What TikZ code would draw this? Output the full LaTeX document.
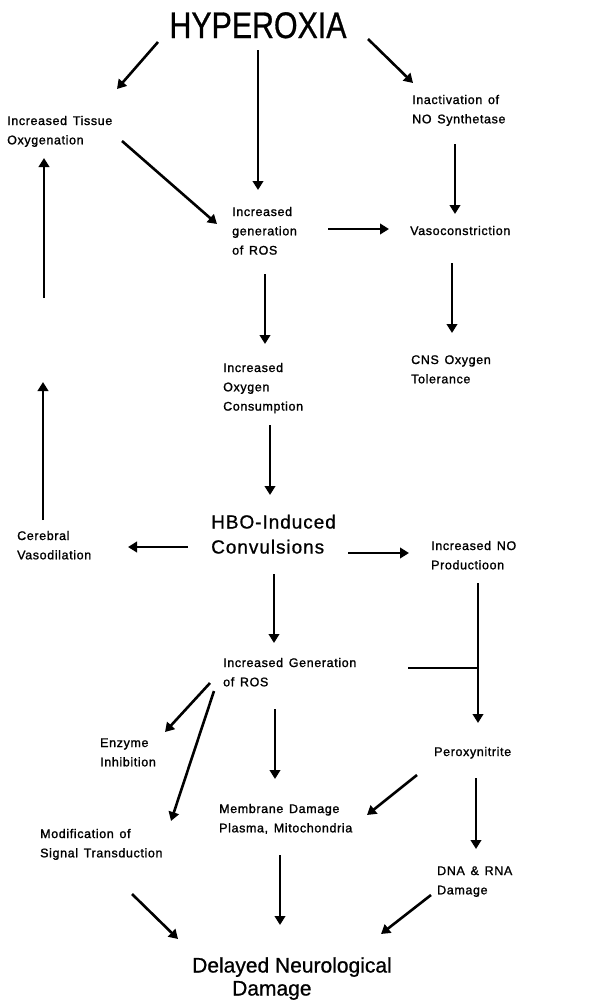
\documentclass[tikz,border=0pt]{standalone}
\usepackage{fontspec}
\usetikzlibrary{arrows.meta}
\setmainfont{Liberation Sans}
\newfontfamily\lblfam{Liberation Sans}[LetterSpace=5,FakeBold=1.3,WordSpace=1.4]
\newfontfamily\midfam{Liberation Sans}[LetterSpace=5,FakeBold=0.8]
\newfontfamily\bigfam{Liberation Sans}[FakeBold=0.8]
\newcommand\lblfont{\lblfam\fontsize{12.5}{19.3}\selectfont}
\newcommand\hbofont{\midfam\fontsize{19}{25}\selectfont}
\newcommand\dndfont{\bigfam\fontsize{21}{23}\selectfont}
\newcommand\hypfont{\bigfam\fontsize{37}{40}\selectfont}
\newcommand\lines[1]{\begin{tabular}[t]{@{}l@{}}#1\end{tabular}}
\begin{document}
\begin{tikzpicture}[x=1pt,y=-1pt,
  arr/.style={line width=2.6pt,-{Triangle[length=9pt,width=10.5pt]}},
  plain/.style={line width=2.6pt},
  lbl/.style={anchor=base west,inner sep=0pt,font=\lblfont}]
\useasboundingbox[fill=white] (0,0) rectangle (614,1002);
% nodes
\node[anchor=base,inner sep=0pt,font=\hypfont] (hyp) at (258,38) {\scalebox{0.82}[1]{HYPEROXIA}};
\node[lbl] (tis) at (7,125) {\lines{Increased Tissue\\Oxygenation}};
\node[lbl] (ina) at (412,104) {\lines{Inactivation of\\NO Synthetase}};
\node[lbl] (ros1) at (232,216) {\lines{Increased\\generation\\of ROS}};
\node[lbl] (vaso) at (410,235) {Vasoconstriction};
\node[lbl] (cons) at (223,372) {\lines{Increased\\Oxygen\\Consumption}};
\node[lbl] (cns) at (411,364) {\lines{CNS Oxygen\\Tolerance}};
\node[anchor=base west,inner sep=0pt,font=\hbofont] (hbo) at (211,528.5) {\lines{HBO-Induced\\Convulsions}};
\node[lbl] (cer) at (17,540) {\lines{Cerebral\\Vasodilation}};
\node[lbl] (nop) at (431,550) {\lines{Increased NO\\Productioon}};
\node[lbl] (ros2) at (223,667) {\lines{Increased Generation\\of ROS}};
\node[lbl] (enz) at (100,747) {\lines{Enzyme\\Inhibition}};
\node[lbl] (per) at (434,756) {Peroxynitrite};
\node[lbl] (mem) at (219,813) {\lines{Membrane Damage\\Plasma, Mitochondria}};
\node[lbl] (mod) at (40,838) {\lines{Modification of\\Signal Transduction}};
\node[lbl] (dna) at (437,875) {\lines{DNA \& RNA\\Damage}};
\node[anchor=base west,inner sep=0pt,font=\dndfont] (dnd) at (192,972.5) {\lines{Delayed Neurological\\\hspace*{40pt}Damage}};
% connector end points
\coordinate (hyp-tis-a) at (158,42);  \coordinate (hyp-tis-b) at (117,89);
\coordinate (hyp-ros-a) at (258,50);  \coordinate (hyp-ros-b) at (258,190);
\coordinate (hyp-ina-a) at (368,39);  \coordinate (hyp-ina-b) at (413,83);
\coordinate (ina-vas-a) at (455,144); \coordinate (ina-vas-b) at (455,214);
\coordinate (tis-ros-a) at (122,141); \coordinate (tis-ros-b) at (217,224);
\coordinate (ros-vas-a) at (328,229); \coordinate (ros-vas-b) at (389,229);
\coordinate (vas-cns-a) at (452,263); \coordinate (vas-cns-b) at (452,333);
\coordinate (ros-con-a) at (265,274); \coordinate (ros-con-b) at (265,344);
\coordinate (cer-up-a) at (43,520);   \coordinate (cer-up-b) at (43,382);
\coordinate (cer-tis-a) at (44,298);  \coordinate (cer-tis-b) at (44,158);
\coordinate (con-hbo-a) at (270,425); \coordinate (con-hbo-b) at (270,495);
\coordinate (hbo-cer-a) at (188,547); \coordinate (hbo-cer-b) at (128,547);
\coordinate (hbo-nop-a) at (348,553); \coordinate (hbo-nop-b) at (409,553);
\coordinate (hbo-ros-a) at (274,574); \coordinate (hbo-ros-b) at (274,643);
\coordinate (nop-per-a) at (478,583); \coordinate (nop-per-b) at (478,723);
\coordinate (ros-j-a) at (408,668);   \coordinate (ros-j-b) at (478,668);
\coordinate (ros-enz-a) at (210,683); \coordinate (ros-enz-b) at (165,732);
\coordinate (ros-mod-a) at (214,691); \coordinate (ros-mod-b) at (171,821);
\coordinate (ros-mem-a) at (275,709); \coordinate (ros-mem-b) at (275,779);
\coordinate (per-mem-a) at (417,775); \coordinate (per-mem-b) at (367,815);
\coordinate (per-dna-a) at (476,778); \coordinate (per-dna-b) at (476,849);
\coordinate (mod-dnd-a) at (132,894); \coordinate (mod-dnd-b) at (178,939);
\coordinate (mem-dnd-a) at (280,855); \coordinate (mem-dnd-b) at (280,925);
\coordinate (dna-dnd-a) at (431,895); \coordinate (dna-dnd-b) at (381,934);
% connectors
\foreach \c in {hyp-tis,hyp-ros,hyp-ina,ina-vas,tis-ros,ros-vas,vas-cns,ros-con,
  cer-up,cer-tis,con-hbo,hbo-cer,hbo-nop,hbo-ros,nop-per,ros-enz,ros-mod,
  ros-mem,per-mem,per-dna,mod-dnd,mem-dnd,dna-dnd}
  {\draw[arr] (\c-a) -- (\c-b);}
\draw[plain] (ros-j-a) -- (ros-j-b);
\end{tikzpicture}
\end{document}
